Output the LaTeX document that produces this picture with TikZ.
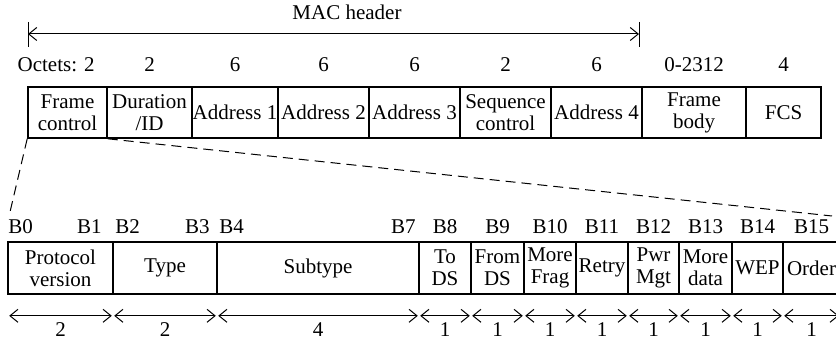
\documentclass[tikz,border=0pt]{standalone}
\usepackage{fontspec}
\setmainfont{Liberation Serif}
\usetikzlibrary{arrows.meta}

\begin{document}
\begin{tikzpicture}[x=0.5pt,y=-0.5pt,
            >={Straight Barb[length=4pt,width=6.5pt]},
            field/.style={shape=rectangle, draw, line width=0.8pt, inner sep=0pt, align=center, font=\fontsize{10.5}{11}\selectfont},
            txt/.style={inner sep=0pt, font=\fontsize{10.5}{11}\selectfont},
            span/.style={<->, line width=0.5pt, shorten <=1pt, shorten >=1pt}]
        \useasboundingbox (0,0) rectangle (836,341);

        \node[txt, anchor=base] (mac) at (347,20) {MAC header};
        \coordinate (macL) at (28,34);
        \coordinate (macR) at (639,34);
        \draw[<->, line width=0.5pt] (macL) -- (macR);
        \draw[line width=0.5pt] ([yshift=6pt]macL) -- ([yshift=-6.5pt]macL);
        \draw[line width=0.5pt] ([yshift=6pt]macR) -- ([yshift=-6.5pt]macR);

        \node[txt, anchor=base east] (oct) at (95,72) {Octets: 2};
        \foreach \a/\b/\t/\n/\o in {28/107/{Frame\\control}/fc/{},
                107/192/{Duration\\/ID}/dur/2, 192/278/Address 1/ad1/6,
                278/369/Address 2/ad2/6, 369/460/Address 3/ad3/6,
                460/551/{Sequence\\control}/seq/2, 551/642/Address 4/ad4/6,
                642/746/{Frame\\body}/body/0-2312, 746/821/FCS/fcs/4} {
            \node[field, minimum width={(\b-\a)*0.5pt}, minimum height=25.5pt] (\n) at ({(\a+\b)/2},112.5) {\t};
            \node[txt, anchor=base] at ({(\a+\b)/2},72) {\o};
        }

        \coordinate (zl) at (10,212);
        \coordinate (zr) at (832,216);
        \draw[dash pattern=on 5pt off 3pt, line width=0.5pt] (fc.south west) -- (zl);
        \draw[dash pattern=on 5pt off 3pt, line width=0.5pt] (fc.south east) -- (zr);

        \node[txt, anchor=base west] at (8,234) {B0};
        \node[txt, anchor=base east] at (102,234) {B1};
        \node[txt, anchor=base west] at (115,234) {B2};
        \node[txt, anchor=base east] at (210,234) {B3};
        \node[txt, anchor=base west] at (219,234) {B4};
        \node[txt, anchor=base east] at (416,234) {B7};

        \foreach \a/\b/\t/\n/\l/\w in {8/113/{Protocol\\version}/pv/{}/2,
                113/217/Type/ty/{}/2, 217/419/Subtype/st/{}/4,
                419/471/{To\\DS}/tds/B8/1, 471/524/{From\\DS}/fds/B9/1,
                524/576/{More\\Frag}/mf/B10/1, 576/628/Retry/re/B11/1,
                628/679/{Pwr\\Mgt}/pm/B12/1, 679/732/{More\\data}/md/B13/1,
                732/783/WEP/wep/B14/1, 783/840/Order/ord/B15/1} {
            \node[field, minimum width={(\b-\a)*0.5pt}, minimum height=26pt] (\n) at ({(\a+\b)/2},268) {\t};
            \node[txt, anchor=base] at ({(\a+\b)/2},234) {\l};
            \draw[span] ([yshift=-10.5pt]\n.south west) -- ([yshift=-10.5pt]\n.south east);
            \node[txt, anchor=base] at ({(\a+\b)/2},337) {\w};
        }
    \end{tikzpicture}
\end{document}
